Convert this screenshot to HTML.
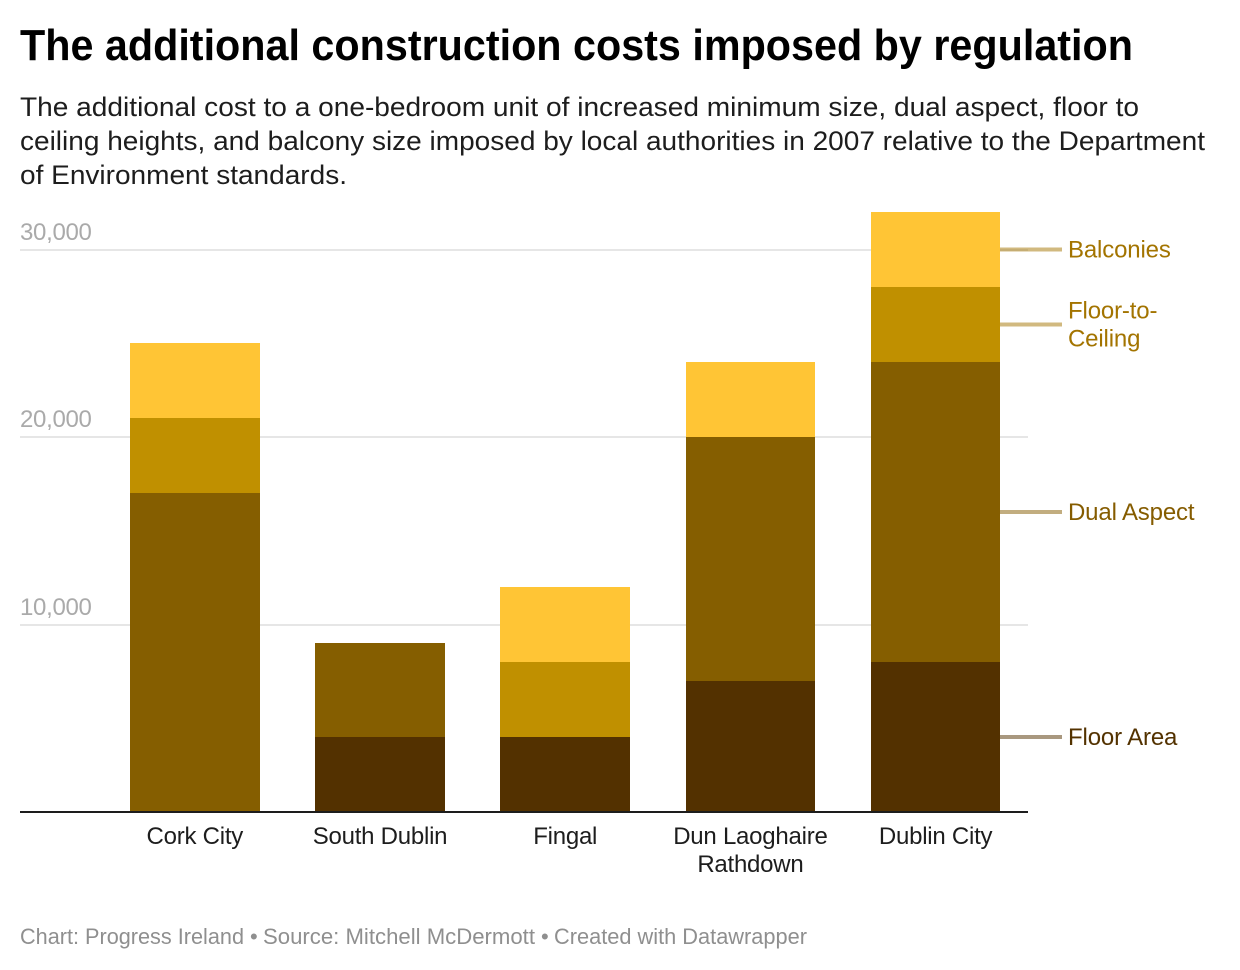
<!DOCTYPE html>
<html lang="en">
<head>
<meta charset="utf-8">
<title>The additional construction costs imposed by regulation</title>
<style>
html,body{margin:0;padding:0;background:#fff;}
body{width:1240px;height:970px;overflow:hidden;font-family:"Liberation Sans",Arial,sans-serif;}
svg{display:block;font-family:"Liberation Sans",Arial,sans-serif;}
</style>
</head>
<body>
<svg id="chart" width="1240" height="970" viewBox="0 0 1240 970" xmlns="http://www.w3.org/2000/svg">
  <text x="20" y="60" font-size="44" font-weight="700" fill="#000" textLength="1113" lengthAdjust="spacingAndGlyphs">The additional construction costs imposed by regulation</text>
  <g font-size="27" fill="#1d1d1d">
    <text x="20" y="116" textLength="1119" lengthAdjust="spacingAndGlyphs">The additional cost to a one-bedroom unit of increased minimum size, dual aspect, floor to</text>
    <text x="20" y="150" textLength="1185" lengthAdjust="spacingAndGlyphs">ceiling heights, and balcony size imposed by local authorities in 2007 relative to the Department</text>
    <text x="20" y="184" textLength="327" lengthAdjust="spacingAndGlyphs">of Environment standards.</text>
  </g>
  <g id="grid"></g>
  <g id="bars"></g>
  <g id="xaxis"></g>
  <g id="labels"></g>
  <g font-size="22" fill="#8f8f8f">
    <text x="20" y="944" textLength="224" lengthAdjust="spacingAndGlyphs">Chart: Progress Ireland</text>
    <text x="250" y="944">•</text>
    <text x="263" y="944" textLength="272" lengthAdjust="spacingAndGlyphs">Source: Mitchell McDermott</text>
    <text x="541" y="944">•</text>
    <text x="554" y="944" textLength="253" lengthAdjust="spacingAndGlyphs">Created with Datawrapper</text>
  </g>
</svg>
<script>
var categories = [["Cork City"], ["South Dublin"], ["Fingal"], ["Dun Laoghaire", "Rathdown"], ["Dublin City"]];
var floorArea = [0, 4000, 4000, 7000, 8000];
var dualAspect = [17000, 5000, 0, 13000, 16000];
var floorToCeiling = [4000, 0, 4000, 0, 4000];
var balconies = [4000, 0, 4000, 4000, 4000];
var yTicks = [10000, 20000, 30000];
var seriesNames = [["Floor Area"], ["Dual Aspect"], ["Floor-to-", "Ceiling"], ["Balconies"]];

var seriesValues = [floorArea, dualAspect, floorToCeiling, balconies];
var barColors = ["#533100", "#855e00", "#c09000", "#ffc535"];
var labelColors = ["#533200", "#855c00", "#a37400", "#a37400"];
var seriesKeys = ["floor-area", "dual-aspect", "floor-to-ceiling", "balconies"];
var NS = "http://www.w3.org/2000/svg";

function yScale(v) { return 812 - v * 0.01875; }
function xBand(i) { return 130 + i * 185.2; }
var BAR_W = 129.6;

function make(parent, tag, attrs) {
  var el = document.createElementNS(NS, tag);
  for (var k in attrs) el.setAttribute(k, attrs[k]);
  parent.appendChild(el);
  return el;
}

var grid = document.getElementById("grid");
yTicks.forEach(function (t) {
  var line = make(grid, "rect", { x: 20, y: Math.round(yScale(t)) - 1, width: 1008, height: 2, fill: "#e6e6e6" });
  
  
  var label = make(grid, "text", { x: 20, y: Math.round(yScale(t)) - 10, "font-size": 24, "letter-spacing": "-0.3", fill: "#aaaaaa" });
  
  
  label.textContent = t.toLocaleString("en-US");
});

var bars = document.getElementById("bars");
categories.forEach(function (cat, i) {
  var cum = 0;
  var left = Math.round(xBand(i));
  var right = Math.round(xBand(i) + BAR_W);
  seriesValues.forEach(function (vals, s) {
    var v = vals[i];
    if (v > 0) {
      var top = Math.round(yScale(cum + v));
      var bottom = Math.round(yScale(cum));
      var r = make(bars, "rect", { x: left, y: top, width: right - left, height: bottom - top, fill: barColors[s] });
      
      
    }
    cum += v;
  });
});

var xaxis = document.getElementById("xaxis");
var baseline = make(xaxis, "rect", { x: 20, y: yScale(0) - 1, width: 1008, height: 2, fill: "#1d1d1d" });


categories.forEach(function (lines, i) {
  lines.forEach(function (txt, j) {
    var t = make(xaxis, "text", { x: xBand(i) + BAR_W / 2, y: 844 + j * 28, "font-size": 24, "letter-spacing": "-0.24", fill: "#1d1d1d", "text-anchor": "middle" });
    
    
    t.textContent = txt;
  });
});

var labels = document.getElementById("labels");
var lastIdx = categories.length - 1;
var cumLast = 0;
seriesValues.forEach(function (vals, s) {
  var v = vals[lastIdx];
  var mid = yScale(cumLast + v / 2);
  cumLast += v;
  var leader = make(labels, "rect", { x: Math.round(xBand(lastIdx) + BAR_W), y: mid - 2, width: 62, height: 4, fill: labelColors[s], opacity: 0.5 });
  
  
  var lines = seriesNames[s];
  lines.forEach(function (txt, j) {
    var base = mid + 7.8 + (j - (lines.length - 1) / 2) * 28;
    var t = make(labels, "text", { x: 1068, y: base, "font-size": 24, "letter-spacing": "-0.15", fill: labelColors[s] });
    
    
    t.textContent = txt;
  });
});
</script>
</body>
</html>
